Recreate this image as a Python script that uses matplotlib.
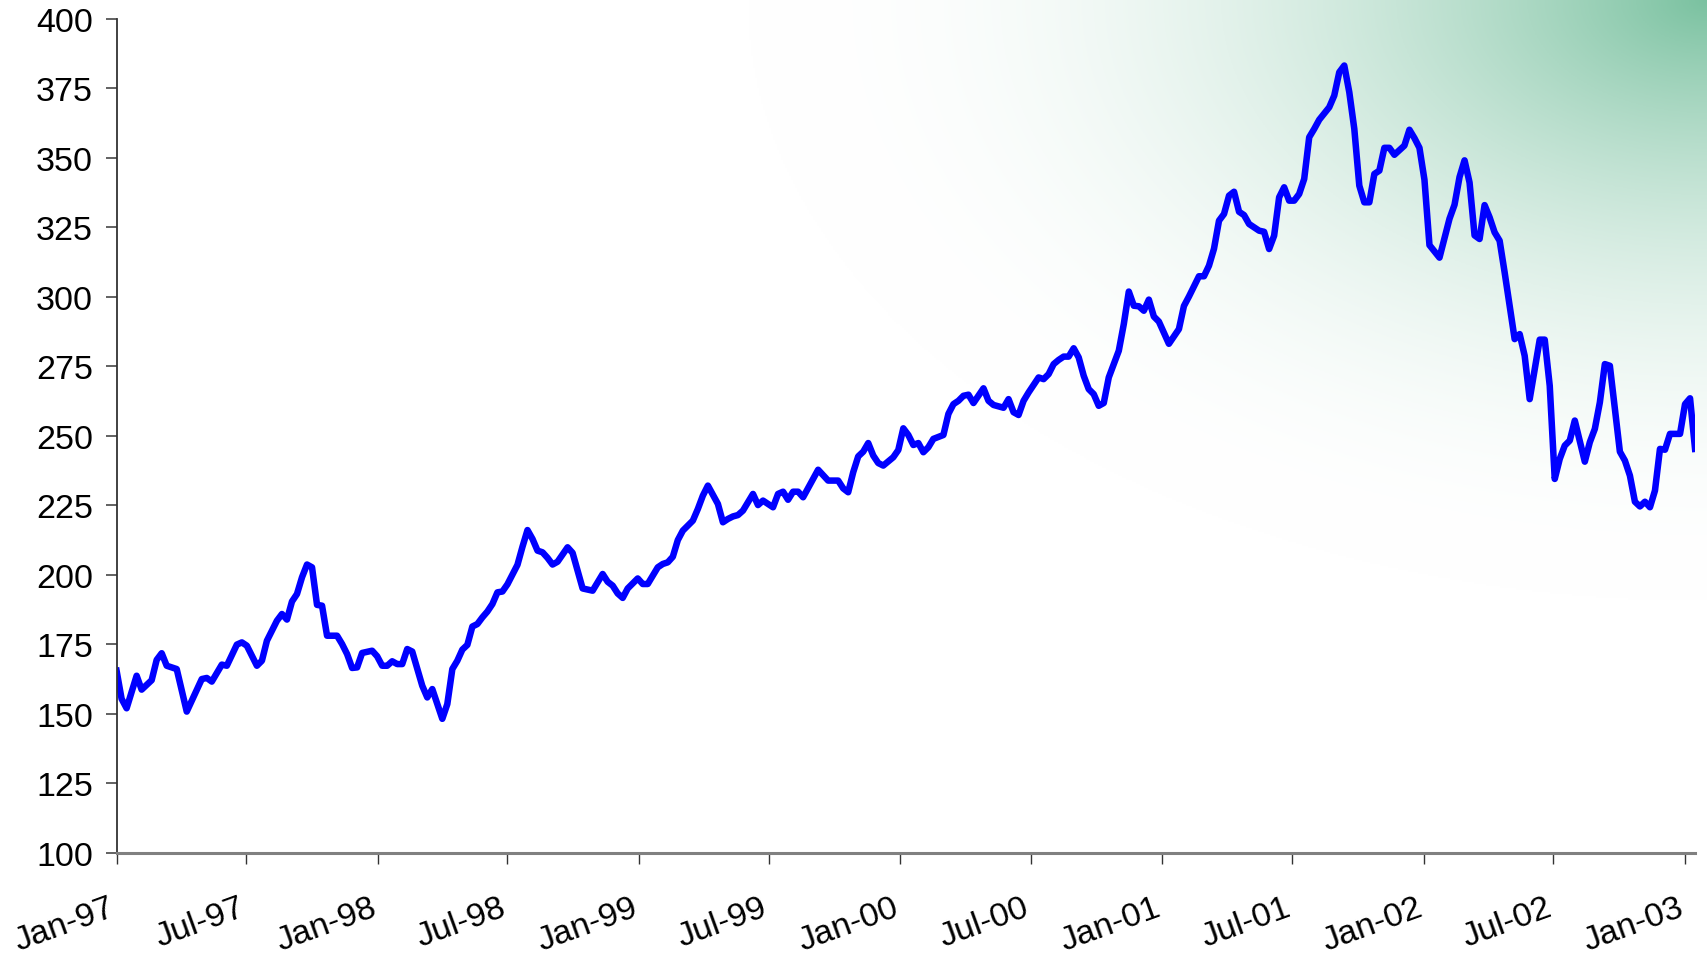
import numpy as np
import pandas as pd
import matplotlib
matplotlib.use('Agg')
import matplotlib.pyplot as plt
import matplotlib.dates as mdates
import matplotlib.transforms as mtransforms

plt.rcParams['font.family'] = ['Liberation Sans', 'DejaVu Sans']

# weekly index (weeks since 1 Jan 1997) and index level
weeks = [0, 1, 2, 4, 5, 7, 8, 9, 10, 12, 14, 16, 17, 18, 19, 21, 22, 24, 25, 26,
         28, 29, 30, 32, 33, 34, 35, 36, 37, 38, 39, 40, 41, 42, 44, 45, 46, 47, 48, 49,
         51, 52, 53, 54, 55, 56, 57, 58, 59, 61, 62, 63, 65, 66, 67, 68, 69, 70, 71, 72,
         73, 74, 75, 76, 77, 78, 79, 80, 81, 82, 83, 84, 85, 86, 87, 88, 90, 91, 92, 93,
         95, 97, 98, 99, 100, 101, 102, 104, 105, 106, 108, 109, 110, 111, 112, 113, 115, 116, 117, 118,
         120, 121, 122, 123, 124, 125, 127, 128, 129, 131, 132, 133, 134, 135, 136, 137, 139, 140, 142, 144,
         145, 146, 147, 148, 149, 150, 151, 152, 153, 155, 156, 157, 158, 159, 160, 161, 162, 163, 165, 166,
         167, 168, 169, 170, 171, 173, 174, 175, 177, 178, 179, 180, 181, 182, 184, 185, 186, 187, 188, 189,
         190, 191, 192, 193, 194, 195, 196, 197, 198, 199, 200, 201, 202, 203, 204, 205, 206, 207, 208, 210,
         212, 213, 214, 216, 217, 218, 219, 220, 221, 222, 223, 224, 225, 226, 228, 229, 230, 231, 232, 233,
         234, 235, 236, 237, 238, 239, 240, 242, 243, 244, 245, 246, 247, 248, 249, 250, 251, 252, 253, 254,
         255, 257, 258, 259, 260, 261, 262, 264, 265, 266, 267, 268, 269, 270, 271, 272, 273, 274, 275, 276,
         277, 279, 280, 281, 282, 283, 284, 285, 286, 287, 288, 289, 290, 291, 293, 294, 295, 296, 297, 298,
         300, 301, 302, 303, 304, 305, 306, 307, 308, 309, 310, 312, 313, 314, 315]

index_level = [165.4, 155.3, 151.9, 163.6, 158.6, 162.0, 169.3, 171.7, 167.2, 166.0,
               150.7, 158.5, 162.4, 162.8, 161.5, 167.6, 167.2, 174.8, 175.6, 174.4,
               167.2, 169.0, 176.2, 183.4, 185.8, 183.8, 190.3, 193.0, 199.0, 203.6,
               202.6, 189.1, 188.8, 178.0, 178.0, 175.0, 171.4, 166.4, 166.6, 171.8,
               172.6, 170.6, 167.2, 167.2, 168.8, 167.8, 167.8, 173.2, 172.3, 160.0,
               155.8, 158.8, 148.1, 153.4, 166.0, 169.0, 173.0, 174.7, 181.3, 182.2,
               184.6, 186.7, 189.4, 193.6, 193.9, 196.5, 200.0, 203.5, 210.0, 216.0,
               212.8, 208.6, 208.0, 206.0, 203.6, 204.6, 209.8, 207.8, 201.4, 195.0,
               194.2, 200.2, 197.4, 196.0, 193.2, 191.6, 195.0, 198.6, 196.6, 196.6,
               202.6, 203.8, 204.4, 206.4, 212.4, 215.8, 219.4, 223.6, 228.4, 232.0,
               225.4, 218.8, 220.0, 220.9, 221.4, 223.0, 229.0, 225.0, 226.6, 224.2,
               229.0, 229.8, 226.9, 229.8, 229.8, 227.8, 234.4, 237.7, 233.8, 233.8,
               231.0, 229.6, 236.8, 242.5, 244.2, 247.3, 242.8, 240.1, 239.2, 242.2,
               244.8, 252.6, 250.2, 246.6, 247.3, 244.0, 245.8, 248.8, 250.2, 257.8,
               261.3, 262.5, 264.3, 264.7, 261.7, 267.0, 262.5, 261.0, 260.0, 263.1,
               258.4, 257.4, 262.5, 265.5, 270.9, 270.3, 272.1, 275.7, 277.2, 278.4,
               278.4, 281.4, 278.1, 271.5, 266.7, 264.9, 260.7, 261.7, 270.9, 275.7,
               280.5, 290.1, 301.8, 296.7, 296.5, 294.9, 298.9, 292.8, 291.0, 283.0,
               288.3, 296.6, 300.0, 307.3, 307.3, 311.1, 317.2, 327.3, 329.7, 336.3,
               337.7, 330.5, 329.3, 326.1, 323.7, 323.3, 317.1, 321.9, 335.7, 339.3,
               334.5, 334.5, 336.9, 342.3, 357.3, 360.3, 363.6, 368.1, 372.3, 380.7,
               383.1, 373.5, 360.3, 339.9, 333.9, 333.9, 344.1, 345.3, 353.5, 353.5,
               351.0, 354.3, 360.0, 357.0, 353.5, 342.0, 318.5, 314.0, 321.0, 328.0,
               333.0, 343.0, 349.0, 341.0, 322.0, 320.7, 332.9, 328.5, 323.1, 320.1,
               308.7, 284.7, 286.5, 278.7, 263.1, 273.9, 284.5, 284.5, 267.9, 234.4,
               241.6, 246.4, 248.2, 255.4, 240.6, 247.6, 252.4, 261.9, 275.7, 275.1,
               244.2, 241.0, 235.6, 226.2, 224.5, 226.2, 224.2, 230.2, 245.2, 244.9,
               250.6, 250.6, 261.3, 263.4, 245.2]

y_ticks = np.arange(100, 401, 25)

start = pd.Timestamp('1997-01-01')
dates = start + pd.to_timedelta(np.array(weeks) * 7, unit='D')

fig = plt.figure(figsize=(17.07, 9.54), dpi=100)

# soft green background in the top right corner
bg = fig.add_axes([0, 0, 1, 1], zorder=-1)
h, w = 477, 854
yy, xx = np.mgrid[0:h, 0:w]
r = np.sqrt(((w - xx) / 480.0) ** 2 + (yy / 300.0) ** 2)
a = np.clip(1 - r, 0, 1) ** 2.2 * 0.95
green = np.array([115, 190, 155]) / 255.0
img = np.ones((h, w, 3)) * (1 - a[..., None]) + green * a[..., None]
bg.imshow(img, aspect='auto', extent=[0, 1, 0, 1], origin='upper')
bg.axis('off')

ax = fig.add_axes([0.0683, 0.1053, 0.9247, 0.8742])
ax.set_facecolor('none')
ax.plot(dates, index_level, color='#0000ff', lw=4.7, solid_joinstyle='round')

ax.set_ylim(100, 400)
ax.set_yticks(y_ticks)
ax.set_xlim(dates[0], dates[-1])
ax.xaxis.set_major_locator(mdates.MonthLocator(bymonth=[1, 7]))
ax.xaxis.set_major_formatter(mdates.DateFormatter('%b-%y'))

for s in ['top', 'right']:
    ax.spines[s].set_visible(False)
ax.spines['left'].set_color('#333333')
ax.spines['left'].set_linewidth(1.3)
ax.spines['bottom'].set_color('#808080')
ax.spines['bottom'].set_linewidth(2.2)

ax.tick_params(axis='y', length=8, width=1.3, color='#555555', labelsize=24.5, pad=9)
ax.tick_params(axis='x', length=8, width=1.0, color='#333333', labelsize=24.5, pad=20)

offset = mtransforms.ScaledTranslation(-0.08, 0, fig.dpi_scale_trans)
for lab in ax.get_xticklabels():
    lab.set_rotation(20)
    lab.set_ha('right')
    lab.set_va('top')
    lab.set_rotation_mode('anchor')
    lab.set_transform(lab.get_transform() + offset)

fig.savefig('out.png', dpi=100)
